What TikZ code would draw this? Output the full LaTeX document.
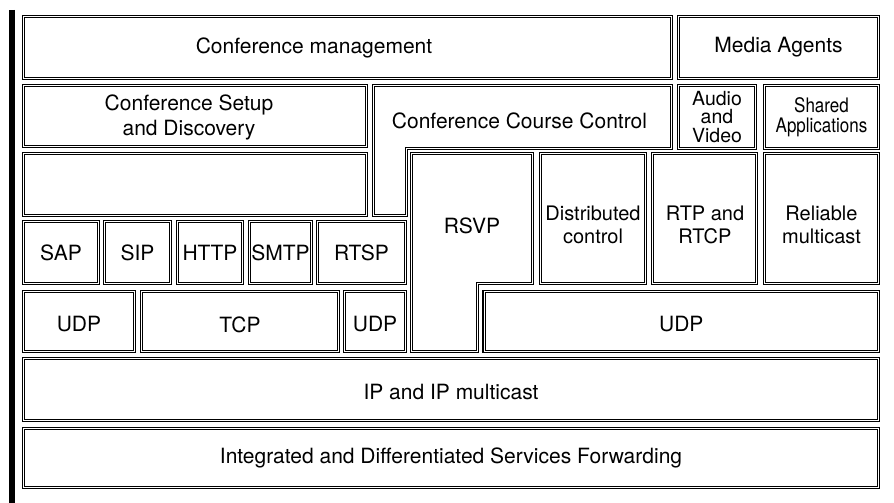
\documentclass[tikz,border=0pt]{standalone}
\usepackage{fontspec}
\setmainfont{TeX Gyre Heros}
\usetikzlibrary{fit}

\begin{document}
\begin{tikzpicture}[
  x=1pt, y=-1pt,
  every node/.style={font=\fontsize{21}{25}\selectfont},
  box/.style={draw, double, double distance=0.9pt, line width=1.4pt, inner sep=0pt},
  txt/.style={inner sep=0pt, align=center}
]
  \useasboundingbox (0,0) rectangle (894,503);
  \draw[line width=5.5pt] (11.75,10) -- (11.75,503);

  % application layer
  \node[box, fit={(23.5,16.5) (671.5,78.5)}] (mgmt) {};
  \node[txt] (t-mgmt) at (314,48) {Conference management};
  \node[box, fit={(678.5,16.5) (878.5,78.5)}] (media) {};
  \node[txt] (t-media) at (media) {Media Agents};

  \node[box, fit={(23.5,85.5) (366.5,146.5)}] (setup) {};
  \node[txt] (t-setup) at (189,117) {Conference Setup\\and Discovery};
  \draw[box] (373.5,85.5) -- (671.5,85.5) -- (671.5,148.5) -- (406.5,148.5)
    -- (406.5,215.5) -- (373.5,215.5) -- cycle;
  \node[txt] (t-course) at (519.5,121) {Conference Course Control};
  \node[box, fit={(678.5,85.5) (755.5,148.5)}] (av) {};
  \node[txt, font=\fontsize{19.5}{18.5}\selectfont] (t-av) at (av) {Audio\\and\\Video};
  \node[box, fit={(764.5,85.5) (878.5,148.5)}] (shared) {};
  \node[txt, font=\fontsize{20}{19.5}\selectfont] (t-shared) at (shared)
    {\scalebox{0.85}[1]{Shared}\\\scalebox{0.85}[1]{Applications}};

  \node[box, fit={(23.5,153.5) (366.5,215.5)}] (blank) {};
  \draw[box] (411.5,153.5) -- (532.5,153.5) -- (532.5,283.5) -- (477.5,283.5)
    -- (477.5,351.5) -- (411.5,351.5) -- cycle;
  \node[txt] (t-rsvp) at (472,226) {RSVP};
  \node[box, fit={(540.5,153.5) (645.5,283.5)}] (dist) {};
  \node[txt, font=\fontsize{20}{23}\selectfont] (t-dist) at (593,225) {Distributed\\control};
  \node[box, fit={(652.5,153.5) (756.5,283.5)}] (rtp) {};
  \node[txt, font=\fontsize{20}{23}\selectfont] (t-rtp) at (705,225) {RTP and\\RTCP};
  \node[box, fit={(764.5,153.5) (878.5,283.5)}] (rel) {};
  \node[txt, font=\fontsize{20}{23}\selectfont] (t-rel) at (821.5,225) {Reliable\\multicast};

  \node[box, fit={(23.5,221.5) (98.5,283.5)}] (sap) {};
  \node[txt] (t-sap) at (sap) {SAP};
  \node[box, fit={(104.5,221.5) (170.5,283.5)}] (sip) {};
  \node[txt] (t-sip) at (sip) {SIP};
  \node[box, fit={(177.5,221.5) (242.5,283.5)}] (http) {};
  \node[txt] (t-http) at (http) {HTTP};
  \node[box, fit={(249.5,221.5) (311.5,283.5)}] (smtp) {};
  \node[txt] (t-smtp) at (smtp) {SMTP};
  \node[box, fit={(317.5,221.5) (405.5,283.5)}] (rtsp) {};
  \node[txt] (t-rtsp) at (rtsp) {RTSP};

  % transport
  \node[box, fit={(23.5,291.5) (134.5,351.5)}] (udp-a) {};
  \node[txt] (t-udp-a) at ([yshift=-3pt]udp-a.center) {UDP};
  \node[box, fit={(141.5,291.5) (338.5,351.5)}] (tcp) {};
  \node[txt] (t-tcp) at ([yshift=-3pt]tcp.center) {TCP};
  \node[box, fit={(344.5,291.5) (405.5,351.5)}] (udp-b) {};
  \node[txt] (t-udp-b) at ([yshift=-3pt]udp-b.center) {UDP};
  \node[box, fit={(484,291.5) (878.5,351.5)}] (udp-c) {};
  \node[txt] (t-udp-c) at ([yshift=-3pt]udp-c.center) {UDP};

  % network
  \node[box, fit={(23.5,358.5) (878.5,420.5)}] (ip) {};
  \node[txt] (t-ip) at ([yshift=-2pt]ip.center) {IP and IP multicast};
  \node[box, fit={(23.5,428.5) (878.5,487.5)}] (fwd) {};
  \node[txt] (t-fwd) at (fwd) {Integrated and Differentiated Services Forwarding};
\end{tikzpicture}
\end{document}
